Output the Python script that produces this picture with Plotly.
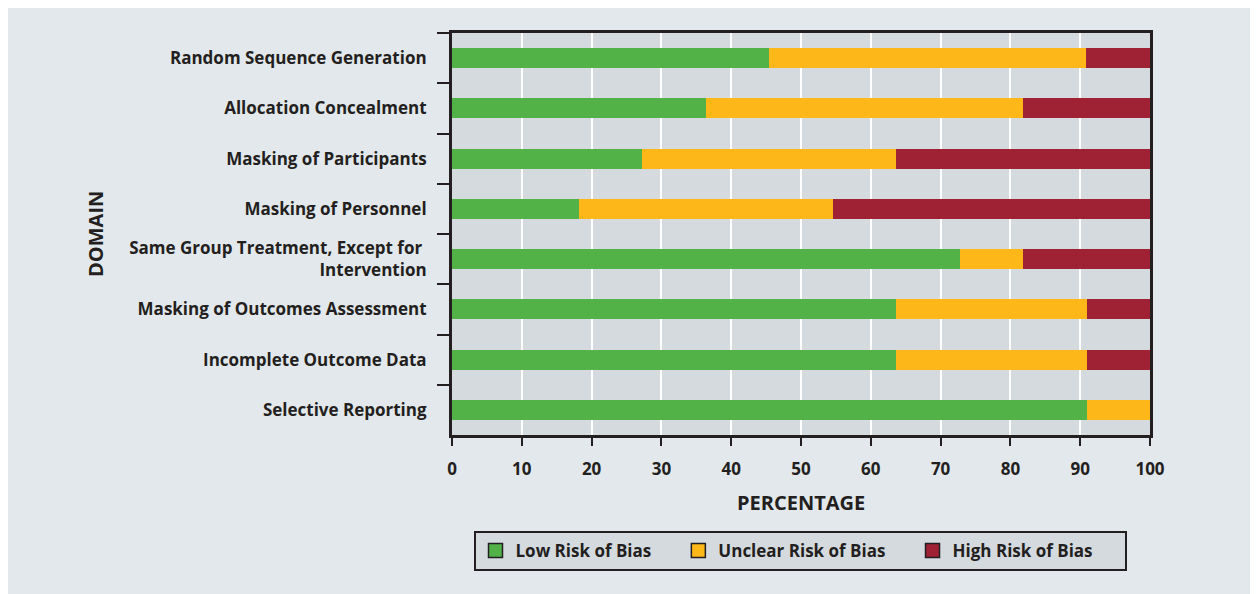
import plotly.graph_objects as go

domains = [
    "Random Sequence Generation",
    "Allocation Concealment",
    "Masking of Participants",
    "Masking of Personnel",
    "Same Group Treatment, Except for <br>Intervention",
    "Masking of Outcomes Assessment",
    "Incomplete Outcome Data",
    "Selective Reporting",
]
low_risk = [45.45, 36.36, 27.27, 18.18, 72.73, 63.64, 63.64, 90.91]
unclear_risk = [45.45, 45.45, 36.36, 36.36, 9.09, 27.27, 27.27, 9.09]
high_risk = [9.10, 18.19, 36.37, 45.46, 18.18, 9.09, 9.09, 0.0]
series_names = ["Low Risk of Bias", "Unclear Risk of Bias", "High Risk of Bias"]
x_ticks = [0, 10, 20, 30, 40, 50, 60, 70, 80, 90, 100]

colors = ["#52b248", "#fdb718", "#9e2233"]
dark = "#231f20"
font_family = "Open Sans"
NB = "\u00a0"
legend_pad = [5, 5, 6]

fig = go.Figure()
for name, vals, col in zip(series_names, [low_risk, unclear_risk, high_risk], colors):
    fig.add_trace(go.Bar(
        y=domains, x=vals, orientation="h", name=name,
        marker=dict(color=col, line=dict(width=0)),
        width=0.4, showlegend=False,
    ))
for name, col, pad in zip(series_names, colors, legend_pad):
    fig.add_trace(go.Scatter(
        x=[None], y=[None], mode="markers", name=name + NB * pad,
        marker=dict(symbol="square", size=14, color=col, line=dict(color=dark, width=1.5)),
    ))

OFF = 8  # page body margin
W, H = 1258 - OFF, 594 - OFF
L, R, T, B = 452 - OFF, 1150 - OFF, 33 - OFF, 435 - OFF


def px(x):
    return (x - OFF - L) / (R - L)


def py(y):
    return (B - (y - OFF)) / (B - T)


fig.update_layout(
    width=W, height=H,
    barmode="stack",
    margin=dict(l=L, r=W - R, t=T, b=H - B),
    paper_bgcolor="#e3e8ec",
    plot_bgcolor="#d5dadf",
    font=dict(family=font_family, color=dark, size=17),
    xaxis=dict(
        range=[0, 100], tickvals=x_ticks, ticks="outside", ticklen=8, tickwidth=2,
        tickcolor=dark, showgrid=True, gridcolor="white", gridwidth=2,
        showline=True, linecolor=dark, linewidth=3, mirror=True,
        tickfont=dict(size=17, family=font_family, weight="bold"),
        ticklabelstandoff=9,
        zeroline=False, fixedrange=True,
    ),
    yaxis=dict(
        categoryorder="array", categoryarray=domains, autorange="reversed",
        ticks="outside", tickson="boundaries", ticklen=12, tickwidth=2, tickcolor=dark,
        showline=True, linecolor=dark, linewidth=3, mirror=True, showgrid=False,
        tickfont=dict(size=17, family=font_family, weight="bold"),
        ticklabelstandoff=19,
    ),
    legend=dict(
        orientation="h", traceorder="normal",
        x=px(800), xanchor="center",
        y=py(531), yanchor="top",
        bgcolor="#d5dadf", bordercolor=dark, borderwidth=2,
        font=dict(size=17, family=font_family, weight="bold"),
        itemwidth=30,
    ),
    annotations=[
        dict(text="<b>PERCENTAGE</b>", xref="paper", yref="paper",
             x=px(801), y=py(503), xanchor="center", yanchor="middle",
             showarrow=False, font=dict(size=20, family=font_family, color=dark)),
        dict(text="<b>DOMAIN</b>", xref="paper", yref="paper",
             x=px(95), y=py(234), xanchor="center", yanchor="middle",
             textangle=-90, showarrow=False, font=dict(size=20, family=font_family, color=dark)),
    ],
)

fig.write_html("out.html")
